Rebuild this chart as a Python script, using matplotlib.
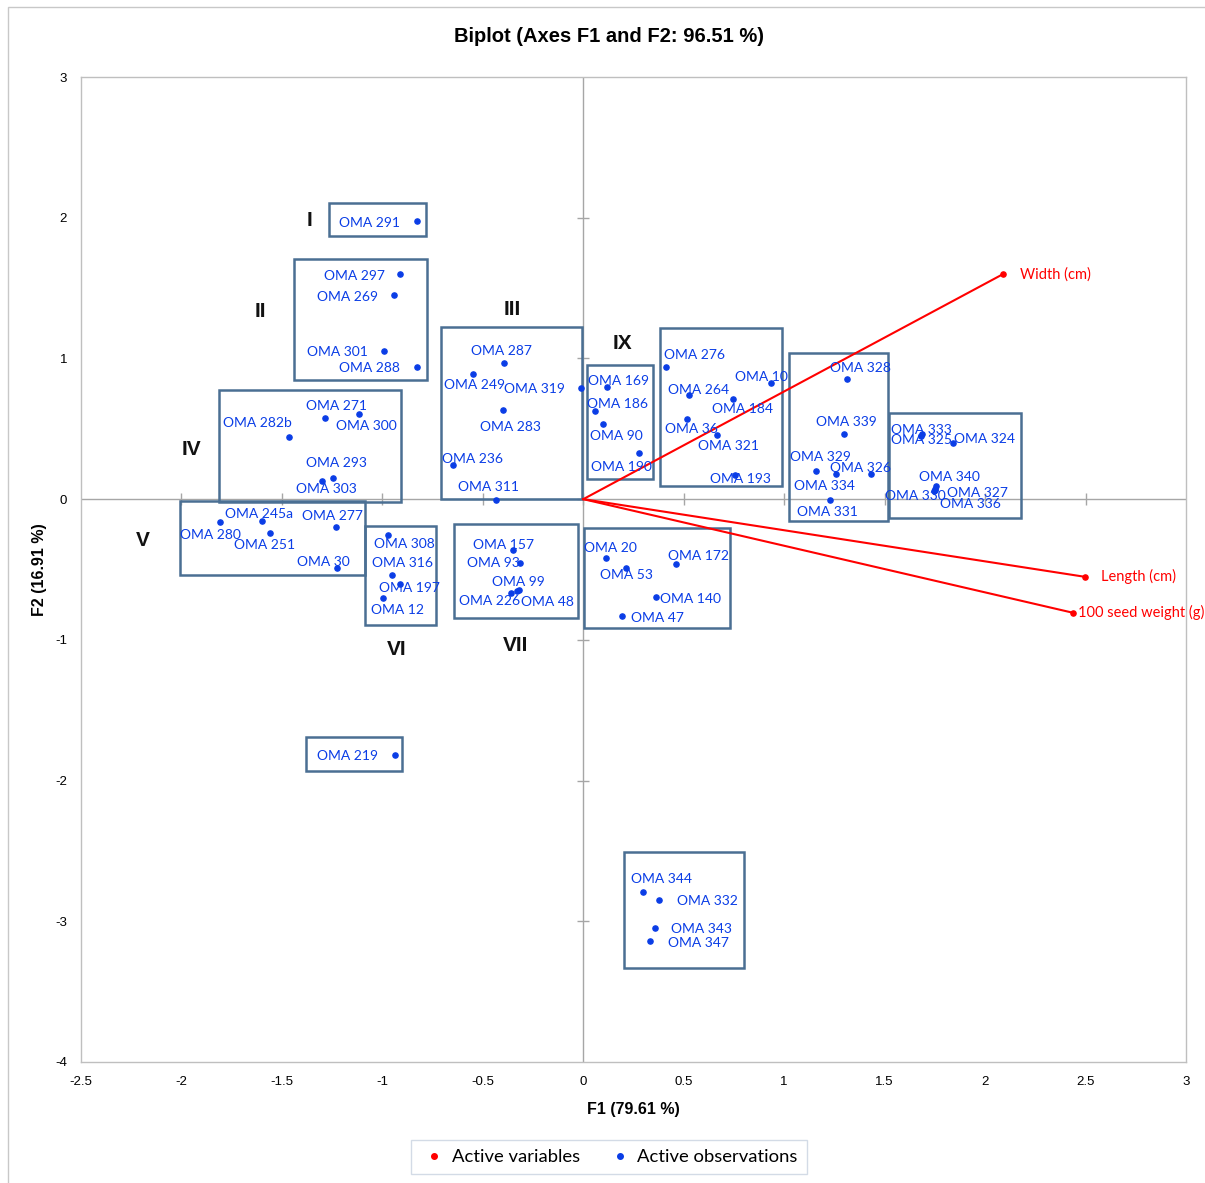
import matplotlib.pyplot as plt
from matplotlib.patches import Rectangle
from matplotlib.lines import Line2D

# observations (F1, F2)
obs_names = ['OMA 291', 'OMA 297', 'OMA 269', 'OMA 301', 'OMA 288',
             'OMA 271', 'OMA 300', 'OMA 282b', 'OMA 293', 'OMA 303',
             'OMA 245a', 'OMA 280', 'OMA 251', 'OMA 277', 'OMA 30',
             'OMA 308', 'OMA 316', 'OMA 197', 'OMA 12',
             'OMA 287', 'OMA 249', 'OMA 319', 'OMA 283', 'OMA 236', 'OMA 311',
             'OMA 169', 'OMA 186', 'OMA 90', 'OMA 190',
             'OMA 157', 'OMA 93', 'OMA 99', 'OMA 226', 'OMA 48',
             'OMA 276', 'OMA 10', 'OMA 264', 'OMA 184', 'OMA 36', 'OMA 321', 'OMA 193',
             'OMA 328', 'OMA 339', 'OMA 329', 'OMA 326', 'OMA 334', 'OMA 331',
             'OMA 333', 'OMA 325', 'OMA 324', 'OMA 340', 'OMA 330', 'OMA 327', 'OMA 336',
             'OMA 20', 'OMA 53', 'OMA 172', 'OMA 140', 'OMA 47',
             'OMA 344', 'OMA 332', 'OMA 343', 'OMA 347', 'OMA 219']
obs_f1 = [-0.83, -0.914, -0.94, -0.994, -0.83,
          -1.284, -1.115, -1.467, -1.248, -1.299,
          -1.60, -1.81, -1.558, -1.229, -1.224,
          -0.972, -0.951, -0.914, -0.999,
          -0.397, -0.549, -0.011, -0.40, -0.65, -0.435,
          0.118, 0.058, 0.10, 0.279,
          -0.35, -0.314, -0.33, -0.36, -0.32,
          0.413, 0.934, 0.526, 0.745, 0.514, 0.667, 0.757,
          1.311, 1.299, 1.16, 1.434, 1.256, 1.229,
          1.686, 1.68, 1.84, 1.755, 1.747, 1.752, 1.75,
          0.113, 0.211, 0.461, 0.36, 0.193,
          0.299, 0.377, 0.355, 0.334, -0.936]
obs_f2 = [1.98, 1.60, 1.45, 1.05, 0.94,
          0.58, 0.604, 0.443, 0.149, 0.13,
          -0.156, -0.163, -0.24, -0.199, -0.49,
          -0.254, -0.542, -0.60, -0.70,
          0.969, 0.886, 0.787, 0.635, 0.246, -0.007,
          0.80, 0.628, 0.535, 0.329,
          -0.362, -0.457, -0.652, -0.67, -0.645,
          0.938, 0.824, 0.739, 0.711, 0.573, 0.453, 0.173,
          0.855, 0.46, 0.20, 0.178, 0.178, -0.005,
          0.462, 0.45, 0.40, 0.092, 0.06, 0.075, 0.068,
          -0.415, -0.488, -0.46, -0.697, -0.834,
          -2.793, -2.852, -3.049, -3.139, -1.817]

# variables (F1, F2)
var_names = ['Width (cm)', 'Length (cm)', '100 seed weight (g)']
var_f1 = [2.089, 2.497, 2.439]
var_f2 = [1.599, -0.552, -0.808]

# cluster groups: label, x0, x1, y0, y1
groups = [('I', -1.264, -0.781, 1.869, 2.107),
          ('II', -1.439, -0.777, 0.846, 1.706),
          ('III', -0.707, -0.005, 0.0, 1.222),
          ('IV', -1.812, -0.906, -0.021, 0.775),
          ('V', -2.006, -1.085, -0.540, -0.014),
          ('VI', -1.085, -0.732, -0.896, -0.192),
          ('VII', -0.642, -0.025, -0.846, -0.178),
          ('IX', 0.02, 0.348, 0.142, 0.952),
          ('', 0.383, 0.99, 0.092, 1.215),
          ('', 1.025, 1.518, -0.156, 1.038),
          ('', 1.523, 2.18, -0.135, 0.611),
          ('', 0.005, 0.732, -0.917, -0.206),
          ('', 0.204, 0.801, -3.333, -2.509),
          ('', -1.379, -0.901, -1.933, -1.692)]
group_label_pos = {'I': (-1.364, 1.98), 'II': (-1.608, 1.336), 'III': (-0.353, 1.35),
                   'IV': (-1.951, 0.355), 'V': (-2.19, -0.291), 'VI': (-0.931, -1.066),
                   'VII': (-0.338, -1.038), 'IX': (0.194, 1.109)}

# label offsets in pixels (dx right, dy up)
lab_off = {'OMA 291': (-47, -2), 'OMA 297': (-45, -2), 'OMA 269': (-47, -2),
           'OMA 301': (-46, -1), 'OMA 288': (-47, -1),
           'OMA 271': (11, 12), 'OMA 300': (7, -12), 'OMA 282b': (-31, 14),
           'OMA 293': (4, 15), 'OMA 303': (4, -8),
           'OMA 245a': (-3, 7), 'OMA 280': (-9, -13), 'OMA 251': (-6, -12),
           'OMA 277': (-4, 11), 'OMA 30': (-14, 6),
           'OMA 308': (16, -9), 'OMA 316': (10, 12), 'OMA 197': (10, -4), 'OMA 12': (15, -12),
           'OMA 287': (-2, 12), 'OMA 249': (2, -11), 'OMA 319': (-47, -1),
           'OMA 283': (8, -17), 'OMA 236': (20, 6), 'OMA 311': (-7, 13),
           'OMA 169': (12, 6), 'OMA 186': (23, 7), 'OMA 90': (13, -12), 'OMA 190': (-18, -14),
           'OMA 157': (-9, 5), 'OMA 93': (-27, 0), 'OMA 99': (1, 9),
           'OMA 226': (-21, -8), 'OMA 48': (28, -12),
           'OMA 276': (28, 12), 'OMA 10': (-9, 6), 'OMA 264': (10, 5), 'OMA 184': (10, -10),
           'OMA 36': (5, -10), 'OMA 321': (11, -11), 'OMA 193': (5, -4),
           'OMA 328': (14, 11), 'OMA 339': (2, 12), 'OMA 329': (4, 14),
           'OMA 326': (-11, 6), 'OMA 334': (-11, -12), 'OMA 331': (-3, -12),
           'OMA 333': (-1, 4), 'OMA 325': (1, -4), 'OMA 324': (32, 4),
           'OMA 340': (14, 9), 'OMA 330': (-19, -5), 'OMA 327': (42, -4), 'OMA 336': (36, -14),
           'OMA 20': (4, 10), 'OMA 53': (1, -7), 'OMA 172': (23, 8),
           'OMA 140': (35, -2), 'OMA 47': (35, -2),
           'OMA 344': (18, 13), 'OMA 332': (48, -1), 'OMA 343': (47, -1),
           'OMA 347': (48, -2), 'OMA 219': (-48, -1)}
var_off = [(17, 0), (16, 0), (5, 0)]

lab_font = ['Lato', 'DejaVu Sans']
ax_font = ['Liberation Sans', 'DejaVu Sans']
blue = '#0a3de6'
red = '#ff0000'
box_col = '#4a6f93'

fig = plt.figure(figsize=(12.05, 11.83), dpi=100)
ax = fig.add_axes([81 / 1205, 1 - 1062 / 1183, 1105 / 1205, 985 / 1183])
ax.set_xlim(-2.5, 3)
ax.set_ylim(-4, 3)

# outer frame of the figure
fig.patches.append(Rectangle((8 / 1205, -0.01), 1.0, 1 - 7 / 1183 + 0.01, transform=fig.transFigure,
                             fill=False, edgecolor='#c8c8c8', linewidth=1))

for s in ax.spines.values():
    s.set_color('#bfbfbf')
    s.set_linewidth(1)
ax.axhline(0, color='#a6a6a6', linewidth=1, zorder=1)
ax.axvline(0, color='#a6a6a6', linewidth=1, zorder=1)

xt = [-2.5, -2, -1.5, -1, -0.5, 0, 0.5, 1, 1.5, 2, 2.5, 3]
yt = [-4, -3, -2, -1, 0, 1, 2, 3]
ax.set_xticks(xt)
ax.set_xticklabels([('%g' % v) for v in xt], fontsize=9.5, family=ax_font)
ax.set_yticks(yt)
ax.set_yticklabels([('%g' % v) for v in yt], fontsize=9.5, family=ax_font)
ax.tick_params(length=0, pad=10)
# tick marks on the zero axes
ax.plot(xt[1:-1], [0] * len(xt[1:-1]), linestyle='none', marker='|', markersize=8,
        color='#a6a6a6', markeredgewidth=1, zorder=1)
ax.plot([0] * len(yt[1:-1]), yt[1:-1], linestyle='none', marker='_', markersize=8,
        color='#a6a6a6', markeredgewidth=1, zorder=1)

# group boxes
for name, x0, x1, y0, y1 in groups:
    ax.add_patch(Rectangle((x0, y0), x1 - x0, y1 - y0, fill=False,
                           edgecolor=box_col, linewidth=1.8, zorder=2))
    if name:
        gx, gy = group_label_pos[name]
        ax.text(gx, gy, name, fontsize=15, fontweight='bold', ha='center', va='center',
                family=ax_font, color='#111111')

# variable vectors
for n, vx, vy, off in zip(var_names, var_f1, var_f2, var_off):
    ax.plot([0, vx], [0, vy], color=red, linewidth=1.5, zorder=3)
    ax.annotate(n, (vx, vy), xytext=off, textcoords='offset pixels', ha='left',
                va='center', color=red, fontsize=10.5, family=lab_font, annotation_clip=False)
ax.scatter(var_f1, var_f2, s=14, color=red, zorder=4, clip_on=False)

# observations
ax.scatter(obs_f1, obs_f2, s=14, color=blue, zorder=4)
for n, ox, oy in zip(obs_names, obs_f1, obs_f2):
    ax.annotate(n, (ox, oy), xytext=lab_off[n], textcoords='offset pixels',
                ha='center', va='center', color=blue, fontsize=10, family=lab_font)

fig.text(609 / 1205, 1 - 37 / 1183, 'Biplot (Axes F1 and F2: 96.51 %)', fontsize=14.5,
         fontweight='bold', family=ax_font, ha='center', va='center')
ax.set_xlabel('F1 (79.61 %)', fontsize=11.5, fontweight='bold', family=ax_font, labelpad=10)
ax.set_ylabel('F2 (16.91 %)', fontsize=11.5, fontweight='bold', family=ax_font, labelpad=5.5)

handles = [Line2D([], [], marker='o', linestyle='none', color=red, markersize=4),
           Line2D([], [], marker='o', linestyle='none', color=blue, markersize=4)]
fig.legend(handles, ['Active variables', 'Active observations'], loc='center',
           bbox_to_anchor=(609 / 1205, 1 - 1157 / 1183), ncol=2, frameon=True,
           fancybox=False, edgecolor='#c9d3e0', prop={'family': lab_font, 'size': 13.3},
           handletextpad=0.2, columnspacing=1.4, borderpad=0.5, borderaxespad=0,
           handlelength=1.5)

fig.savefig('out.png', dpi=100)
